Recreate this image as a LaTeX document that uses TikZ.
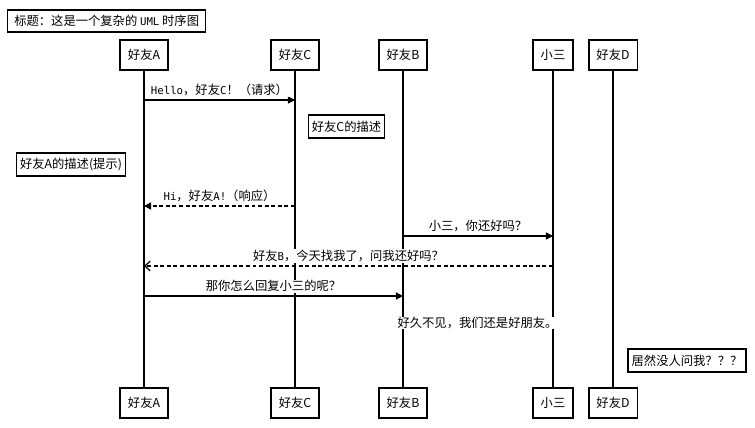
\documentclass[tikz,border=0pt]{standalone}
\usepackage{fontspec}
\setmainfont{Noto Sans CJK SC}
\newfontfamily\monofont[Scale=0.87]{DejaVu Sans Mono}
\usetikzlibrary{positioning,arrows.meta}

\begin{document}
\begin{tikzpicture}[>={Triangle[length=8pt,width=8pt]}, every node/.style={font=\fontsize{14}{16}\selectfont},
    actor/.style={draw, line width=1.8pt, fill=white, minimum height=1.2cm, inner xsep=0.31cm, inner ysep=0pt},
    note/.style={draw, line width=1.6pt, fill=white, minimum height=0.92cm, inner xsep=0.14cm, inner ysep=0pt},
    life/.style={line width=1.4pt},
    msg/.style={->, line width=1.6pt},
    reply/.style={->, line width=1.6pt, dash pattern=on 4.5pt off 3pt},
    lbl/.style={fill=white, inner sep=1pt, above=3pt}]
      \useasboundingbox (0,0) rectangle (30.2,-17.08);

      \node[note, anchor=west, minimum width=7.92cm, minimum height=0.88cm] (title) at (0.28,-0.84) {标题：这是一个复杂的\ {\monofont UML}\ 时序图};

      \node[actor] (a1) at (5.76,-2.2) {好友A};
      \node[actor] (c1) at (11.8,-2.2) {好友C};
      \node[actor] (b1) at (16.12,-2.2) {好友B};
      \node[actor] (s1) at (22.12,-2.2) {小三};
      \node[actor] (d1) at (24.52,-2.2) {好友D};

      \node[actor] (a2) at (5.76,-16.12) {好友A};
      \node[actor] (c2) at (11.8,-16.12) {好友C};
      \node[actor] (b2) at (16.12,-16.12) {好友B};
      \node[actor] (s2) at (22.12,-16.12) {小三};
      \node[actor] (d2) at (24.52,-16.12) {好友D};

      \draw[life] (a1.south) -- (a2.north);
      \draw[life] (c1.south) -- (c2.north);
      \draw[life] (b1.south) -- (b2.north);
      \draw[life] (s1.south) -- (s2.north);
      \draw[life] (d1.south) -- (d2.north);

      \coordinate (m1a) at (a1 |- 0,-4.0);
      \coordinate (m1c) at (c1 |- 0,-4.0);
      \coordinate (m2c) at (c1 |- 0,-8.24);
      \coordinate (m2a) at (a1 |- 0,-8.24);
      \coordinate (m3b) at (b1 |- 0,-9.44);
      \coordinate (m3s) at (s1 |- 0,-9.44);
      \coordinate (m4s) at (s1 |- 0,-10.64);
      \coordinate (m4a) at (a1 |- 0,-10.64);
      \coordinate (m5a) at (a1 |- 0,-11.84);
      \coordinate (m5b) at (b1 |- 0,-11.84);

      \draw[msg] (m1a) -- node[lbl] {{\monofont Hello}，好友{\monofont C}！（请求）} (m1c);
      \draw[reply] (m2c) -- node[lbl] {{\monofont Hi}，好友{\monofont A!}（响应）} (m2a);
      \draw[msg] (m3b) -- node[lbl] {小三，你还好吗？} (m3s);
      \draw[reply, -{Straight Barb[length=6pt,width=11pt,line width=1.4pt]}] (m4s) -- node[lbl] {好友{\monofont B}，今天找我了，问我还好吗？} (m4a);
      \draw[msg] (m5a) -- node[lbl] {那你怎么回复小三的呢？} (m5b);

      \node[fill=white, inner sep=0.5pt] (reply) at (19.1,-12.92) {好久不见，我们还是好朋友。};

      \node[note] (nc) at (13.86,-5.06) {好友C的描述};
      \node[note] (na) at (2.84,-6.58) {好友A的描述(提示)};
      \node[note] (nd) at (27.48,-14.42) {居然没人问我？？？};
    \end{tikzpicture}
\end{document}
